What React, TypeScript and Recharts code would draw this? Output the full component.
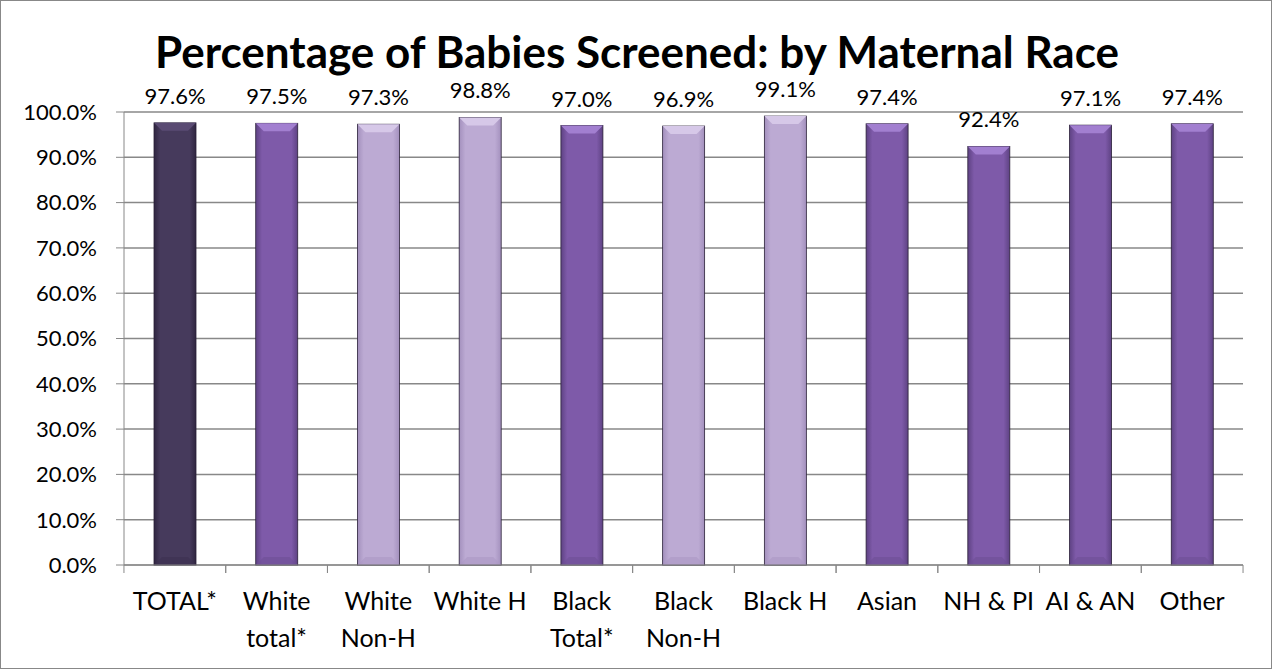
import React from "react";
import {
  BarChart,
  Bar,
  XAxis,
  YAxis,
  CartesianGrid,
  Cell,
  LabelList,
} from "recharts";

const categories = [
  "TOTAL*",
  "White total*",
  "White Non-H",
  "White H",
  "Black Total*",
  "Black Non-H",
  "Black H",
  "Asian",
  "NH & PI",
  "AI & AN",
  "Other",
];
const screened = [97.6, 97.5, 97.3, 98.8, 97.0, 96.9, 99.1, 97.4, 92.4, 97.1, 97.4];
const shade = ["dark", "mid", "light", "light", "mid", "light", "light", "mid", "mid", "mid", "mid"];
const yTicks = [0, 10, 20, 30, 40, 50, 60, 70, 80, 90, 100];

const W = 1272;
const H = 669;
const LEFT = 123;
const RIGHT = 29;
const band = (W - LEFT - RIGHT) / categories.length;
const FONT = "Lato, 'Liberation Sans', sans-serif";

const topColor: Record<string, string> = { dark: "#5a4b73", mid: "#a27fd0", light: "#d6c8e8" };
const botColor: Record<string, string> = { dark: "#3c3150", mid: "#6e4e96", light: "#ab98c5" };

const data = categories.map((name, i) => ({ name, value: screened[i], shade: shade[i] }));

const BevelBar = (props: any) => {
  const { x, y, width, height, shade: s } = props;
  if (!height || height <= 0) return null;
  const b = 8;
  return (
    <g>
      <rect x={x} y={y} width={width} height={height} fill={`url(#g-${s})`} stroke="#2a2038" strokeWidth={0.8} />
      <polygon
        points={`${x},${y} ${x + width},${y} ${x + width - b},${y + b} ${x + b},${y + b}`}
        fill={topColor[s]}
      />
      <polygon
        points={`${x},${y + height} ${x + width},${y + height} ${x + width - b},${y + height - b} ${x + b},${y + height - b}`}
        fill={botColor[s]}
        opacity={0.6}
      />
    </g>
  );
};

const XTick = (props: any) => {
  const { x, y, payload } = props;
  const label: string = payload.value;
  const sp = label.indexOf(" ");
  const lines = label.length > 8 && sp > 0 ? [label.slice(0, sp), label.slice(sp + 1)] : [label];
  return (
    <g>
      <line x1={x - band / 2} x2={x - band / 2} y1={y} y2={y + 8} stroke="#888" />
      <line x1={x + band / 2} x2={x + band / 2} y1={y} y2={y + 8} stroke="#888" />
      {lines.map((l, i) => (
        <text
          key={i}
          x={x}
          y={y + 45 + i * 37}
          textAnchor="middle"
          fontSize={25}
          fontFamily={FONT}
          fill="#000"
        >
          {l}
        </text>
      ))}
    </g>
  );
};

export default function App() {
  return (
    <div
      style={{
        position: "absolute",
        left: 0,
        top: 0,
        width: W,
        height: H,
        boxSizing: "border-box",
        border: "1px solid #888",
        background: "#fff",
        fontFamily: FONT,
      }}
    >
      <div
        style={{
          position: "absolute",
          top: 25,
          left: 0,
          width: W,
          textAlign: "center",
          fontSize: 44,
          fontWeight: 700,
          color: "#000",
          lineHeight: "50px",
        }}
      >
        Percentage of Babies Screened: by Maternal Race
      </div>
      <BarChart
        width={W - 2}
        height={H - 2}
        data={data}
        margin={{ top: 111, right: RIGHT - 1, left: 0, bottom: 13 }}
      >
        <defs>
          <linearGradient id="g-dark" x1="0" y1="0" x2="1" y2="0">
            <stop offset="0%" stopColor="#2f2540" />
            <stop offset="15%" stopColor="#463a5c" />
            <stop offset="85%" stopColor="#463a5c" />
            <stop offset="100%" stopColor="#2f2540" />
          </linearGradient>
          <linearGradient id="g-mid" x1="0" y1="0" x2="1" y2="0">
            <stop offset="0%" stopColor="#5e4283" />
            <stop offset="15%" stopColor="#7e5aa9" />
            <stop offset="85%" stopColor="#7e5aa9" />
            <stop offset="100%" stopColor="#5e4283" />
          </linearGradient>
          <linearGradient id="g-light" x1="0" y1="0" x2="1" y2="0">
            <stop offset="0%" stopColor="#a390bd" />
            <stop offset="15%" stopColor="#bcaad3" />
            <stop offset="85%" stopColor="#bcaad3" />
            <stop offset="100%" stopColor="#a390bd" />
          </linearGradient>
        </defs>
        <CartesianGrid vertical={false} stroke="#888" strokeWidth={1.5} />
        <XAxis
          dataKey="name"
          interval={0}
          height={90}
          tickSize={0}
          tickMargin={0}
          tick={<XTick />}
          stroke="#888"
        />
        <YAxis
          domain={[0, 100]}
          ticks={yTicks}
          width={LEFT}
          tickSize={8}
          tickMargin={19}
          stroke="#888"
          tick={{ fill: "#000", fontSize: 22, fontFamily: FONT }}
          tickFormatter={(v: number) => v.toFixed(1) + "%"}
        />
        <Bar dataKey="value" barSize={42} isAnimationActive={false} shape={<BevelBar />}>
          {data.map((d, i) => (
            <Cell key={i} fill={`url(#g-${d.shade})`} />
          ))}
          <LabelList
            dataKey="value"
            position="top"
            offset={19}
            formatter={(v: any) => Number(v).toFixed(1) + "%"}
            style={{ fill: "#000", fontSize: 22, fontFamily: FONT }}
          />
        </Bar>
      </BarChart>
    </div>
  );
}
